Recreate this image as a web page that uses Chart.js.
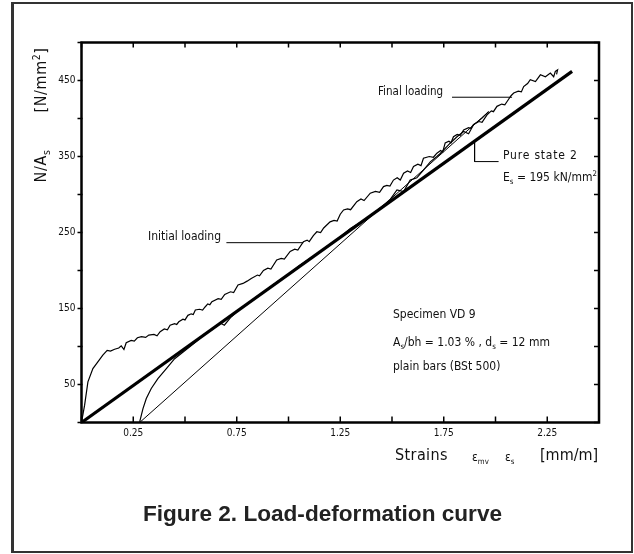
<!DOCTYPE html>
<html>
<head>
<meta charset="utf-8">
<script src="https://cdn.jsdelivr.net/npm/chart.js@4.4.0/dist/chart.umd.min.js"></script>
<style>
  body { margin: 0; background: #fff; }
  #wrap { position: relative; width: 634px; height: 554px; overflow: hidden; background: #fff; }
  #frame { position: absolute; left: 11px; top: 2px; width: 622px; height: 551px; box-sizing: border-box;
           border: 2px solid #333; border-left-width: 3px; }
  #c { position: absolute; left: 0; top: 0; }
  .t { position: absolute; font-family: "DejaVu Sans Condensed", "DejaVu Sans", sans-serif; font-stretch: condensed;
       color: #111; white-space: nowrap; transform: translateY(-50%); line-height: 1; }
  .t sub, .t sup { font-size: 65%; line-height: 0; }
  .rot { position: absolute; font-family: "DejaVu Sans Condensed", "DejaVu Sans", sans-serif; font-stretch: condensed;
         color: #111; white-space: nowrap; font-size: 16px; line-height: 1;
         transform: translate(-50%, -50%) rotate(-90deg); }
  .rot sub, .rot sup { font-size: 65%; line-height: 0; }
  #caption { position: absolute; left: 0; width: 645px; top: 503px; text-align: center;
             font-family: "Liberation Sans", Arial, sans-serif; font-weight: bold; font-size: 22.6px;
             line-height: 22px; color: #222; }
</style>
</head>
<body>
<div id="wrap">
  <canvas id="c" width="634" height="554"></canvas>
  <div id="frame"></div>

  <div class="rot" style="left:41px; top:80px; letter-spacing:0.6px;">[N/mm<sup>2</sup>]</div>
  <div class="rot" style="left:41px; top:166px; letter-spacing:0.6px;">N/A<sub>s</sub></div>

  <div class="t" style="left:395px; top:455px; font-size:16px; letter-spacing:0.4px;">Strains</div>
  <div class="t" style="left:472px; top:457px; font-size:12px;">&epsilon;<sub>mv</sub></div>
  <div class="t" style="left:505px; top:457px; font-size:12px;">&epsilon;<sub>s</sub></div>
  <div class="t" style="left:540px; top:455px; font-size:16px;">[mm/m]</div>

  <div class="t" style="left:148px; top:236px; font-size:12px;">Initial loading</div>
  <div class="t" style="left:378px; top:92px; font-size:11.5px;">Final loading</div>
  <div class="t" style="left:503px; top:155px; font-size:12px; letter-spacing:0.8px;">Pure state 2</div>
  <div class="t" style="left:503px; top:177px; font-size:12px;">E<sub>s</sub> = 195 kN/mm<sup>2</sup></div>

  <div class="t" style="left:393px; top:314px; font-size:12px;">Specimen VD 9</div>
  <div class="t" style="left:393px; top:342px; font-size:12px;">A<sub>s</sub>/bh = 1.03 % , d<sub>s</sub> = 12 mm</div>
  <div class="t" style="left:393px; top:366px; font-size:12px;">plain bars (BSt 500)</div>

  <div id="caption">Figure 2. Load-deformation curve</div>
</div>
<script>
// axis ticks and labels
const strainTicks = [0, 0.25, 0.5, 0.75, 1.0, 1.25, 1.5, 1.75, 2.0, 2.25, 2.5];
const strainLabels = ['', '0.25', '', '0.75', '', '1.25', '', '1.75', '', '2.25', ''];
const stressTicks = [0, 50, 100, 150, 200, 250, 300, 350, 400, 450, 500];
const stressLabels = ['', '50', '', '150', '', '250', '', '350', '', '450', ''];

// initial loading (from origin, cracking plateau ~100)
const initialX = [
  0, 0.015, 0.031, 0.055, 0.079, 0.103, 0.124, 0.14, 0.16, 0.18,
  0.192, 0.205, 0.216, 0.24, 0.255, 0.27, 0.29, 0.31, 0.325, 0.35,
  0.365, 0.38, 0.40, 0.415, 0.428, 0.45, 0.46, 0.47, 0.49, 0.5,
  0.514, 0.53, 0.54, 0.55, 0.57, 0.585, 0.597, 0.61, 0.62, 0.63,
  0.66, 0.675, 0.692, 0.72, 0.735, 0.756, 0.78, 0.8, 0.82, 0.85,
  0.86, 0.879, 0.9, 0.915, 0.943, 0.965, 0.98, 1.008, 1.03, 1.045,
  1.072, 1.09, 1.10, 1.12, 1.137, 1.155, 1.17, 1.201, 1.22, 1.235,
  1.25, 1.266, 1.285, 1.30, 1.33, 1.35, 1.365, 1.395, 1.42, 1.44,
  1.459, 1.475, 1.49, 1.507, 1.525, 1.54, 1.556, 1.575, 1.59, 1.604,
  1.625, 1.64, 1.652, 1.68, 1.70, 1.717, 1.735, 1.745, 1.757, 1.775,
  1.785, 1.797, 1.815, 1.83, 1.846, 1.87, 1.88, 1.894, 1.92, 1.935,
  1.959, 1.98, 1.99, 2.007, 2.03, 2.045, 2.056, 2.075, 2.088, 2.11,
  2.125, 2.136, 2.155, 2.168, 2.193, 2.217, 2.241, 2.265, 2.281, 2.289,
  2.30, 2.295];
const initialY = [
  0, 22.8, 53.5, 71, 79.8, 88.6, 95, 94, 96.4, 98,
  100.9, 96, 105, 108, 107, 111.5, 113, 112, 115, 116,
  114, 119.4, 123, 122, 128, 130, 129, 132.5, 136, 135,
  141, 143, 142, 148, 149, 148, 152, 156, 155, 159,
  163, 162, 168.6, 172, 171, 181, 183, 186, 189.6, 194,
  193, 200, 203, 202, 213.8, 216, 215, 225, 228, 227,
  238, 240, 238, 246, 251, 250, 256, 264, 266, 265,
  274, 279.7, 281, 280, 290.6, 294, 292, 301.7, 304, 303,
  310.4, 312, 311, 319, 322, 319, 328, 331, 329, 337,
  340, 338, 347.7, 350, 349, 354.4, 358, 356, 368, 370,
  368, 376, 379, 378, 385, 388, 387, 392, 396, 395,
  404.7, 410, 409, 416, 419, 418, 422.4, 430, 433.5, 436,
  435, 442, 446, 451, 448.7, 457.5, 455, 459.8, 455, 462,
  464, 458];

// reloading from residual strain
const reloadX = [0.281, 0.297, 0.313, 0.337, 0.369, 0.41, 0.45, 0.482, 0.523, 0.56, 0.6, 0.64, 0.67, 0.69, 0.72,
  0.76, 0.8, 0.85, 0.9, 0.95, 1.0, 1.05, 1.1, 1.15, 1.2, 1.25, 1.299, 1.34, 1.379, 1.42, 1.459, 1.49, 1.524, 1.556,
  1.588, 1.62, 1.652, 1.685, 1.717, 1.733, 1.765, 1.781, 1.814, 1.846, 1.87, 1.894, 1.935, 1.967];
const reloadY = [0.8, 18.3, 31.5, 44.7, 57.8, 71, 84, 90.8, 99.6, 108, 117, 124, 131, 128, 138,
  148, 156, 166, 176, 186, 195, 206, 215, 224, 234, 244, 255.4, 262, 268.8, 277, 286, 293, 306, 304,
  319, 322, 332, 343, 350, 354, 363, 367.5, 376, 383, 380, 391.7, 400.5, 409];

// unloading line
const unloadX = [0.281, 1.967];
const unloadY = [0, 409];

// pure state 2, Es = 195 kN/mm2
const pureX = [0, 2.37];
const pureY = [0, 462];

// label leaders
const initialLeaderX = [0.70, 1.072];
const initialLeaderY = [236.6, 236.6];
const finalLeaderX = [1.79, 2.08];
const finalLeaderY = [428, 428];
const pureLeaderX = [1.899, 1.899, 2.015];
const pureLeaderY = [370.3, 343.3, 343.3];

function pts(xs, ys) {
  return xs.map((v, i) => ({ x: v, y: ys[i] }));
}

function line(xs, ys, w) {
  return {
    data: pts(xs, ys),
    showLine: true,
    borderColor: '#000',
    borderWidth: w,
    pointRadius: 0,
    tension: 0,
    fill: false
  };
}

const frameTicks = {
  id: 'frameTicks',
  afterDatasetsDraw(chart) {
    const { ctx, chartArea: a, scales: { x, y } } = chart;
    ctx.save();
    ctx.strokeStyle = '#000';
    ctx.lineWidth = 1.5;
    ctx.beginPath();
    strainTicks.forEach(v => {
      const px = x.getPixelForValue(v);
      ctx.moveTo(px, a.bottom); ctx.lineTo(px, a.bottom - 6);
      ctx.moveTo(px, a.top); ctx.lineTo(px, a.top + 5);
    });
    stressTicks.forEach(v => {
      const py = y.getPixelForValue(v);
      ctx.moveTo(a.left - 4, py); ctx.lineTo(a.left + 1, py);
      ctx.moveTo(a.right - 5, py); ctx.lineTo(a.right, py);
    });
    ctx.stroke();
    ctx.lineWidth = 2.5;
    ctx.strokeRect(a.left, a.top, a.right - a.left, a.bottom - a.top);
    ctx.restore();
  }
};

const tickFont = { family: '"DejaVu Sans Condensed", "DejaVu Sans", sans-serif', size: 10 };

new Chart(document.getElementById('c'), {
  type: 'scatter',
  data: {
    datasets: [
      line(pureX, pureY, 3.2),
      line(unloadX, unloadY, 1),
      line(initialX, initialY, 1.2),
      line(reloadX, reloadY, 1.2),
      line(initialLeaderX, initialLeaderY, 1),
      line(finalLeaderX, finalLeaderY, 1),
      line(pureLeaderX, pureLeaderY, 1)
    ]
  },
  options: {
    responsive: false,
    animation: false,
    events: [],
    layout: { padding: { left: 0, right: 35, top: 42.5, bottom: 107.5 } },
    plugins: { legend: { display: false }, tooltip: { enabled: false } },
    scales: {
      x: {
        type: 'linear',
        min: 0,
        max: 2.5,
        afterBuildTicks: s => { s.ticks = strainTicks.map(v => ({ value: v })); },
        afterFit: s => { s.height = 24; },
        grid: { display: false, drawTicks: false },
        border: { display: false },
        ticks: {
          autoSkip: false,
          maxRotation: 0,
          padding: 5,
          color: '#111',
          font: tickFont,
          callback: (v, i) => strainLabels[i]
        }
      },
      y: {
        type: 'linear',
        min: 0,
        max: 500,
        afterBuildTicks: s => { s.ticks = stressTicks.map(v => ({ value: v })); },
        afterFit: s => { s.width = 81.5; },
        grid: { display: false, drawTicks: false },
        border: { display: false },
        ticks: {
          autoSkip: false,
          padding: 6,
          color: '#111',
          font: tickFont,
          callback: (v, i) => stressLabels[i]
        }
      }
    }
  },
  plugins: [frameTicks]
});
</script>
</body>
</html>
